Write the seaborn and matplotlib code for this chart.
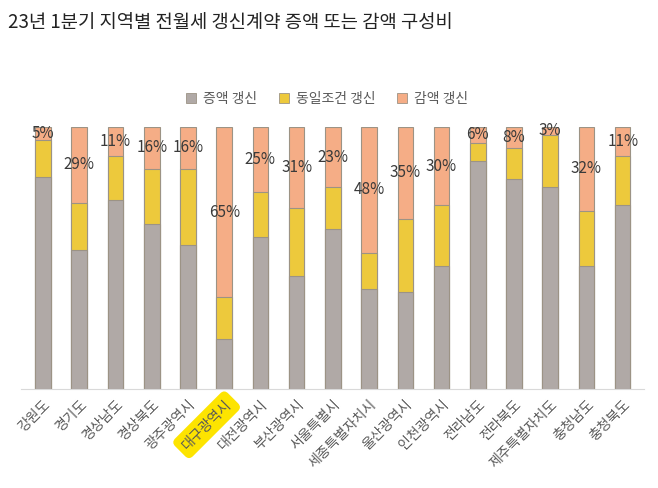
import pandas as pd
import matplotlib.pyplot as plt
import seaborn as sns
from matplotlib.patches import Patch

# ==============================
# DATA
# ==============================

regions = ["강원도", "경기도", "경상남도", "경상북도", "광주광역시", "대구광역시",
           "대전광역시", "부산광역시", "서울특별시", "세종특별자치시", "울산광역시",
           "인천광역시", "전라남도", "전라북도", "제주특별자치도", "충청남도", "충청북도"]
increase = [81, 53, 72, 63, 55, 19, 58, 43, 61, 38, 37, 47, 87, 80, 77, 47, 70]
same = [14, 18, 17, 21, 29, 16, 17, 26, 16, 14, 28, 23, 7, 12, 20, 21, 19]
decrease = [5, 29, 11, 16, 16, 65, 25, 31, 23, 48, 35, 30, 6, 8, 3, 32, 11]

series_names = ["증액 갱신", "동일조건 갱신", "감액 갱신"]
colors = ["#b0a9a6", "#edc93c", "#f5ad86"]

df = pd.DataFrame({"region": regions, "increase": increase,
                   "same": same, "decrease": decrease})
df["lvl1"] = df["increase"]
df["lvl2"] = df["increase"] + df["same"]
df["lvl3"] = df["lvl2"] + df["decrease"]

# ==============================
# PLOT
# ==============================

sns.set_style("white")
plt.rcParams["font.family"] = ["Noto Sans CJK KR", "DejaVu Sans"]

fig = plt.figure(figsize=(6.58, 4.88), dpi=100)
ax = fig.add_axes([0.0324, 0.203, 0.947, 0.537])

edge = "#9c9385"
for col, c in zip(["lvl3", "lvl2", "lvl1"], colors[::-1]):
    sns.barplot(data=df, x="region", y=col, color=c, width=0.43,
                edgecolor=edge, linewidth=0.8, saturation=1, ax=ax)

for i, (tot, d) in enumerate(zip(df["lvl3"], df["decrease"])):
    ax.text(i, tot - d / 2, f"{d}%", ha="center", va="center",
            fontsize=11, color="#3a3a3a")

ax.set_ylim(0, 100)
ax.set_xlim(-0.6, len(regions) - 0.4)
ax.set_xlabel("")
ax.set_ylabel("")
ax.set_yticks([])
for s in ["top", "right", "left"]:
    ax.spines[s].set_visible(False)
ax.spines["bottom"].set_color("#d9d9d9")
ax.tick_params(axis="x", length=0, pad=6)
ax.set_xticks(range(len(regions)))
ax.set_xticklabels(regions, rotation=45, ha="right", rotation_mode="anchor",
                   fontsize=10, color="#595959")
for lbl in ax.get_xticklabels():
    if lbl.get_text() == "대구광역시":
        lbl.set_bbox(dict(boxstyle="round,pad=0.4", facecolor="#fde400",
                          edgecolor="none"))

handles = [Patch(facecolor=c, edgecolor=edge, linewidth=0.6) for c in colors]
fig.legend(handles, series_names, loc="center", bbox_to_anchor=(0.497, 0.797),
           ncol=3, frameon=False, fontsize=10, handlelength=0.7,
           handleheight=0.7, columnspacing=1.6, handletextpad=0.5,
           labelcolor="#595959")

fig.text(0.012, 0.953, "23년 1분기 지역별 전월세 갱신계약 증액 또는 감액 구성비",
         fontsize=13.5, color="#222222", ha="left", va="center")

fig.savefig("out.png", dpi=100)
plt.close(fig)
